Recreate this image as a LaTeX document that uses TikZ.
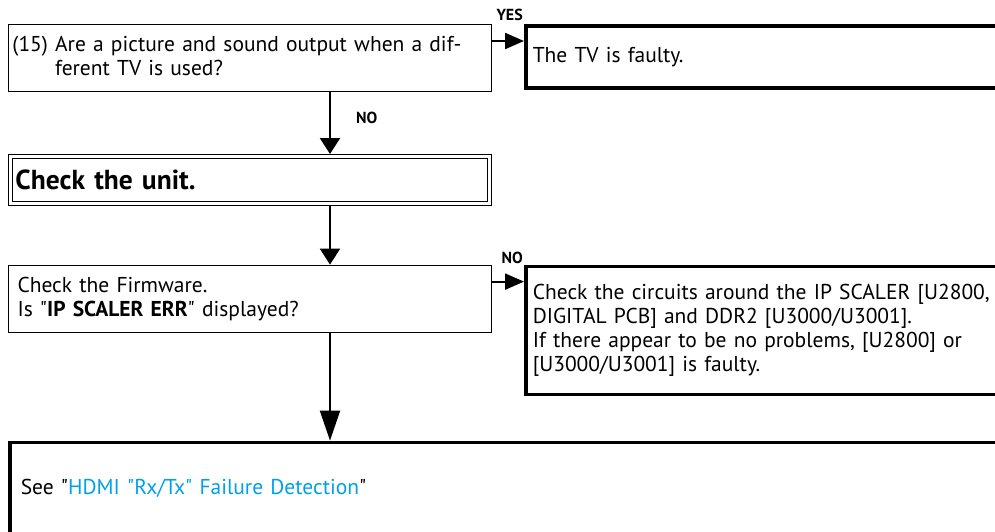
\documentclass[tikz,border=0pt]{standalone}
\usepackage{fontspec}
\setmainfont{PT Sans}[Ligatures=TeXOff]
\usepackage{xcolor}
\usepackage{tikz}
\usetikzlibrary{arrows.meta,positioning,calc}
\definecolor{linkblue}{RGB}{0,160,233}

\begin{document}
\begin{tikzpicture}[
        x=1pt, y=-1pt,
        font=\fontsize{21.5}{24}\selectfont,
        node distance=32pt and 32pt,
        qbox/.style={draw, line width=1pt, align=left, inner ysep=0pt, minimum height=67pt},
        unitbox/.style={draw, double, line width=1pt, double distance=2.6pt, outer sep=2.3pt, align=left, inner ysep=0pt, minimum height=47pt, font=\bfseries\fontsize{27.5}{30}\selectfont},
        endbox/.style={draw, line width=3.5pt, align=left, inner ysep=0pt, inner xsep=7pt},
        lbl/.style={font=\bfseries\fontsize{16}{18}\selectfont, inner sep=1pt},
        arr/.style={-{Triangle[length=16pt,width=20pt]}, line width=2.2pt},
        sidearr/.style={-{Triangle[length=19pt,width=16pt]}, line width=2.2pt},
        longarr/.style={-{Triangle[length=30pt,width=20pt]}, line width=2.2pt}
    ]
    \useasboundingbox (0,0) rectangle (995,531);
    \clip (0,0) rectangle (995,531);
    \coordinate (spine) at (330,0);

    \node[qbox, anchor=north west, inner xsep=4pt, text width=475pt] (tvcheck) at (8,24)
        {(15) Are a picture and sound output when a dif-\\\phantom{(15)\ }ferent TV is used?};
    \node[unitbox, below=62pt of tvcheck, inner xsep=5pt, text width=469pt] (unit) {Check the unit.};
    \node[qbox, below=59pt of unit, inner xsep=9pt, text width=465pt] (firmware)
        {Check the Firmware.\\Is "\textbf{IP SCALER ERR}" displayed?};

    \node[endbox, right=of tvcheck.north east, anchor=north west, minimum height=62pt, text width=470pt] (tvfault) {The TV is faulty.};
    \node[endbox, right=of firmware.north east, anchor=north west, minimum height=128pt, text width=470pt] (scaler)
        {Check the circuits around the IP SCALER [U2800,\\DIGITAL PCB] and DDR2 [U3000/U3001].\\If there appear to be no problems, [U2800] or\\{}[U3000/U3001] is faulty.};
    \node[endbox, below=108pt of firmware.south west, anchor=north west, inner xsep=11pt, minimum height=91pt, text width=975pt] (hdmi)
        {See "\textcolor{linkblue}{HDMI "Rx/Tx" Failure Detection}"};

    \coordinate (yesstart) at ($(tvcheck.north east)+(0,17)$);
    \coordinate (nostart) at ($(firmware.north east)+(0,17)$);

    \draw[sidearr] (yesstart) -- (yesstart -| tvfault.west);
    \node[lbl, anchor=south east] (yes) at ([yshift=2pt]tvfault.north west) {YES};
    \draw[arr] (tvcheck.south -| spine) -- node[lbl, right=24pt, yshift=5pt] (no) {NO} (unit.north -| spine);
    \draw[arr] (unit.south -| spine) -- (firmware.north -| spine);
    \draw[sidearr] (nostart) -- (nostart -| scaler.west);
    \node[lbl, anchor=south east] (noerr) at (scaler.north west) {NO};
    \draw[longarr] (firmware.south -| spine) -- (hdmi.north -| spine);
    \end{tikzpicture}
\end{document}
